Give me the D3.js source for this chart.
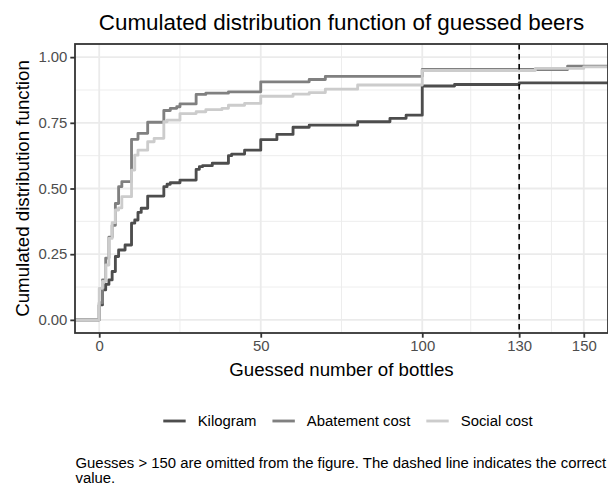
<!DOCTYPE html>
<html>
<head>
<meta charset="utf-8">
<script src="https://cdn.jsdelivr.net/npm/d3@7"></script>
<style>
  body { margin: 0; background: #ffffff; }
  text { font-family: "Liberation Sans", Arial, Helvetica, sans-serif; }
</style>
</head>
<body>
<svg id="chart" width="608" height="485"></svg>
<script>
// Empirical CDF of guessed number of bottles, one step series per treatment
const seriesNames = ["Kilogram", "Abatement cost", "Social cost"];

const kilogramGuess = [0, 1, 2, 3, 4, 5, 6, 8, 10, 11, 12, 13, 15, 20, 21, 22, 25, 30, 31, 32, 35, 40, 41, 45, 50, 55, 60, 65, 80, 90, 95, 100, 110, 130];
const kilogramCdf   = [0.057, 0.114, 0.135, 0.152, 0.184, 0.241, 0.266, 0.285, 0.368, 0.38, 0.409, 0.425, 0.471, 0.507, 0.516, 0.522, 0.532, 0.573, 0.583, 0.587, 0.596, 0.625, 0.631, 0.646, 0.686, 0.706, 0.733, 0.741, 0.754, 0.767, 0.779, 0.89, 0.896, 0.902];

const abatementGuess = [0, 1, 2, 3, 4, 5, 6, 7, 10, 12, 15, 20, 22, 24, 25, 30, 33, 40, 50, 65, 70, 100, 145];
const abatementCdf   = [0.065, 0.152, 0.235, 0.315, 0.36, 0.443, 0.507, 0.526, 0.687, 0.71, 0.752, 0.797, 0.805, 0.811, 0.822, 0.858, 0.863, 0.868, 0.906, 0.915, 0.927, 0.953, 0.966];

const socialGuess = [0, 1, 2, 3, 4, 5, 6, 7, 10, 11, 12, 15, 17, 20, 21, 25, 30, 33, 38, 40, 45, 50, 60, 65, 70, 80, 100, 135, 150];
const socialCdf   = [0.12, 0.146, 0.209, 0.31, 0.37, 0.418, 0.426, 0.469, 0.57, 0.627, 0.646, 0.678, 0.691, 0.754, 0.76, 0.785, 0.792, 0.80, 0.805, 0.817, 0.824, 0.851, 0.859, 0.865, 0.878, 0.894, 0.949, 0.957, 0.963];

const xTicks = [0, 50, 100, 130, 150];
const xMinorTicks = [25, 75, 115, 140];
const yTicks = [0, 0.25, 0.5, 0.75, 1];
const yMinorTicks = [0.125, 0.375, 0.625, 0.875];
const correctValue = 130;

const titleText = "Cumulated distribution function of guessed beers";
const xTitle = "Guessed number of bottles";
const yTitle = "Cumulated distribution function";
const captionLines = [
  "Guesses > 150 are omitted from the figure. The dashed line indicates the correct",
  "value."
];

// ---- layout & style ----
const W = 608, H = 485;
const panel = { left: 75, right: 608, top: 44, bottom: 333 };
const colors = ["#4d4d4d", "#808080", "#cccccc"];
const lineW = 2.85;
const gridCol = "#ebebeb";
const borderCol = "#333333";
const tickTextCol = "#4d4d4d";

const svg = d3.select("#chart");
svg.append("rect").attr("width", W).attr("height", H).attr("fill", "#ffffff");

const x = d3.scaleLinear().domain([-7.5, 157.5]).range([panel.left, panel.right]);
const y = d3.scaleLinear().domain([-0.05, 1.05]).range([panel.bottom, panel.top]);

svg.append("defs").append("clipPath").attr("id", "panelClip")
  .append("rect")
  .attr("x", panel.left).attr("y", panel.top)
  .attr("width", panel.right - panel.left).attr("height", panel.bottom - panel.top);

const grid = svg.append("g");
grid.selectAll("line.xminor").data(xMinorTicks).join("line")
  .attr("x1", d => x(d)).attr("x2", d => x(d))
  .attr("y1", panel.top).attr("y2", panel.bottom)
  .attr("stroke", gridCol).attr("stroke-width", 0.9);
grid.selectAll("line.yminor").data(yMinorTicks).join("line")
  .attr("y1", d => y(d)).attr("y2", d => y(d))
  .attr("x1", panel.left).attr("x2", panel.right)
  .attr("stroke", gridCol).attr("stroke-width", 0.9);
grid.selectAll("line.xmajor").data(xTicks).join("line")
  .attr("x1", d => x(d)).attr("x2", d => x(d))
  .attr("y1", panel.top).attr("y2", panel.bottom)
  .attr("stroke", gridCol).attr("stroke-width", 1.8);
grid.selectAll("line.ymajor").data(yTicks).join("line")
  .attr("y1", d => y(d)).attr("y2", d => y(d))
  .attr("x1", panel.left).attr("x2", panel.right)
  .attr("stroke", gridCol).attr("stroke-width", 1.8);

// step lines, padded to the panel edges on both sides
const series = [
  { name: seriesNames[0], guess: kilogramGuess, cdf: kilogramCdf, color: colors[0] },
  { name: seriesNames[1], guess: abatementGuess, cdf: abatementCdf, color: colors[1] },
  { name: seriesNames[2], guess: socialGuess, cdf: socialCdf, color: colors[2] }
];
const stepLine = d3.line().x(d => x(d[0])).y(d => y(d[1])).curve(d3.curveStepAfter);
const plotG = svg.append("g").attr("clip-path", "url(#panelClip)");
series.forEach(s => {
  const pts = [[x.domain()[0], 0]];
  s.guess.forEach((g, i) => pts.push([g, s.cdf[i]]));
  pts.push([x.domain()[1], s.cdf[s.cdf.length - 1]]);
  plotG.append("path")
    .attr("d", stepLine(pts))
    .attr("fill", "none")
    .attr("stroke", s.color)
    .attr("stroke-width", lineW)
    .attr("stroke-linejoin", "round")
    .attr("stroke-linecap", "butt");
});

// correct value
plotG.append("line")
  .attr("x1", x(correctValue)).attr("x2", x(correctValue))
  .attr("y1", panel.top).attr("y2", panel.bottom)
  .attr("stroke", "#000000").attr("stroke-width", 1.6)
  .attr("stroke-dasharray", "5.5 4.5");

// panel border
svg.append("rect")
  .attr("x", panel.left).attr("y", panel.top)
  .attr("width", panel.right - panel.left).attr("height", panel.bottom - panel.top)
  .attr("fill", "none").attr("stroke", borderCol).attr("stroke-width", 1.8);

// axes
const xAxis = d3.axisBottom(x).tickValues(xTicks).tickFormat(d3.format("d"))
  .tickSize(4.7).tickPadding(2.9);
const gx = svg.append("g").attr("transform", `translate(0,${panel.bottom})`).call(xAxis);
gx.select(".domain").remove();
gx.selectAll(".tick line").attr("stroke", borderCol).attr("stroke-width", 1.8);
gx.selectAll(".tick text").attr("fill", tickTextCol).attr("font-size", "14.9px")
  .attr("font-family", "Liberation Sans, Arial, sans-serif");

const yAxis = d3.axisLeft(y).tickValues(yTicks).tickFormat(d3.format(".2f"))
  .tickSize(4.7).tickPadding(2.9);
const gy = svg.append("g").attr("transform", `translate(${panel.left},0)`).call(yAxis);
gy.select(".domain").remove();
gy.selectAll(".tick line").attr("stroke", borderCol).attr("stroke-width", 1.8);
gy.selectAll(".tick text").attr("fill", tickTextCol).attr("font-size", "14.9px")
  .attr("font-family", "Liberation Sans, Arial, sans-serif");

// titles
const panelMid = (panel.left + panel.right) / 2;
svg.append("text").attr("x", panelMid).attr("y", 30)
  .attr("text-anchor", "middle").attr("font-size", "22.4px").attr("fill", "#000")
  .text(titleText);
svg.append("text").attr("x", panelMid).attr("y", 375.5)
  .attr("text-anchor", "middle").attr("font-size", "18.7px").attr("fill", "#000")
  .text(xTitle);
svg.append("text")
  .attr("transform", `translate(28.5,${(panel.top + panel.bottom) / 2}) rotate(-90)`)
  .attr("text-anchor", "middle").attr("font-size", "18.7px").attr("fill", "#000")
  .text(yTitle);

// legend
const legendY = 421;
const keyW = 22.4, keyGap = 12, itemGap = 16;
const legend = svg.append("g");
let cursor = 0;
series.forEach(s => {
  const g = legend.append("g").attr("transform", `translate(${cursor},0)`);
  g.append("line").attr("x1", 0).attr("x2", keyW).attr("y1", 0).attr("y2", 0)
    .attr("stroke", s.color).attr("stroke-width", lineW);
  const t = g.append("text").attr("x", keyW + keyGap).attr("y", 5.3)
    .attr("font-size", "14.9px").attr("fill", "#000").text(s.name);
  const w = t.node().getComputedTextLength();
  cursor += keyW + keyGap + w + itemGap;
});
const legendWidth = cursor - itemGap;
legend.attr("transform", `translate(${348 - legendWidth / 2},${legendY})`);

// caption, two wrapped lines
captionLines.forEach((line, i) => {
  svg.append("text").attr("x", 75.5).attr("y", 468 + i * 15)
    .attr("font-size", "14.9px").attr("fill", "#000").text(line);
});
</script>
</body>
</html>
